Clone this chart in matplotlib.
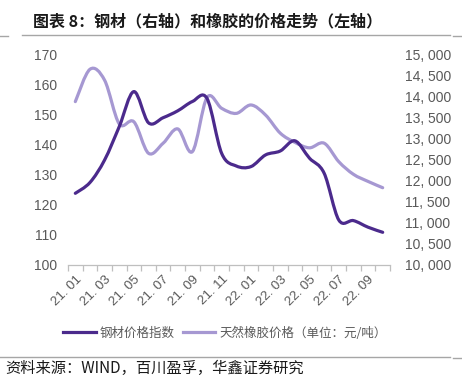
import matplotlib
matplotlib.use("Agg")
import matplotlib.pyplot as plt
import numpy as np
from matplotlib.path import Path
from matplotlib.patches import PathPatch
from matplotlib.lines import Line2D

plt.rcParams['font.family'] = ['Noto Sans CJK SC', 'DejaVu Sans']

# ---- data ----
months = ["21.01", "21.02", "21.03", "21.04", "21.05", "21.06", "21.07", "21.08",
          "21.09", "21.10", "21.11", "21.12", "22.01", "22.02", "22.03", "22.04",
          "22.05", "22.06", "22.07", "22.08", "22.09", "22.10"]
steel_index = [123.9, 127.5, 135.0, 146.1, 157.8, 147.4, 149.1, 151.4, 154.5, 155.5,
               137.2, 133.0, 132.8, 136.7, 138.0, 141.4, 135.6, 130.6, 115.0, 114.8,
               112.6, 110.9]
rubber_price = [13890, 14660, 14400, 13360, 13410, 12660, 12900, 13240, 12700, 13990,
                13730, 13610, 13810, 13570, 13140, 12920, 12790, 12900, 12460, 12160,
                11990, 11840]
left_ticks = [100, 110, 120, 130, 140, 150, 160, 170]
right_ticks = [10000, 10500, 11000, 11500, 12000, 12500, 13000, 13500, 14000, 14500, 15000]
label_steel = "钢材价格指数"
label_rubber = "天然橡胶价格（单位：元/吨）"
title = "图表 8：钢材（右轴）和橡胶的价格走势（左轴）"
source = "资料来源：WIND，百川盈孚，华鑫证券研究"

DARK = "#4b2a8c"
LIGHT = "#a698d2"
GRAY = "#595959"


def smooth_path(xs, ys):
    n = len(xs)
    verts = [(xs[0], ys[0])]
    codes = [Path.MOVETO]
    for i in range(n - 1):
        xp, yp = (xs[i - 1], ys[i - 1]) if i > 0 else (xs[i], ys[i])
        xn, yn = (xs[i + 2], ys[i + 2]) if i + 2 < n else (xs[i + 1], ys[i + 1])
        c1 = (xs[i] + (xs[i + 1] - xp) / 6.0, ys[i] + (ys[i + 1] - yp) / 6.0)
        c2 = (xs[i + 1] - (xn - xs[i]) / 6.0, ys[i + 1] - (yn - ys[i]) / 6.0)
        verts += [c1, c2, (xs[i + 1], ys[i + 1])]
        codes += [Path.CURVE4] * 3
    return Path(verts, codes)


fig = plt.figure(figsize=(4.62, 3.91), dpi=100)
ax = fig.add_axes([68 / 462, 1 - 265 / 391, 322 / 462, 210 / 391])
ax2 = ax.twinx()
ax.set_zorder(ax2.get_zorder() + 1)
ax.patch.set_visible(False)

x = np.arange(len(months))
ax.set_xlim(-0.5, len(months) - 0.5)
ax.set_ylim(100, 170)
ax2.set_ylim(10000, 15000)

ax2.add_patch(PathPatch(smooth_path(x, rubber_price), fill=False, edgecolor=LIGHT,
                        lw=2.3, capstyle='round', joinstyle='round'))
ax.add_patch(PathPatch(smooth_path(x, steel_index), fill=False, edgecolor=DARK,
                       lw=2.3, capstyle='round', joinstyle='round'))

for a in (ax, ax2):
    for s in a.spines.values():
        s.set_visible(False)
ax.spines['bottom'].set_visible(True)
ax.spines['bottom'].set_color("#bfbfbf")
ax.spines['bottom'].set_linewidth(0.9)

tick_font = dict(family='Liberation Sans', size=10)
ax.set_yticks(left_ticks)
ax.set_yticklabels([str(v) for v in left_ticks], fontdict=tick_font, color=GRAY)
ax.tick_params(axis='y', length=0, pad=8)
ax2.set_yticks(right_ticks)
ax2.set_yticklabels([f"{v:,}".replace(",", ", ") for v in right_ticks], fontdict=tick_font, color=GRAY)
ax2.tick_params(axis='y', length=0, pad=11)

ax.set_xticks(x[::2])
ax.set_xticklabels([m.replace(".", ". ") for m in months[::2]], rotation=45, ha='right',
                   va='top', rotation_mode='anchor', fontdict=dict(family='Liberation Sans', size=9.5),
                   color=GRAY)
ax.set_xticks(np.arange(-0.5, len(months), 1), minor=True)
ax.tick_params(axis='x', which='major', length=0, pad=6)
ax.tick_params(axis='x', which='minor', length=4, color="#bfbfbf", width=0.9)

handles = [Line2D([], [], color=DARK, lw=2.3), Line2D([], [], color=LIGHT, lw=2.3)]
fig.legend(handles, [label_steel, label_rubber], loc='center', bbox_to_anchor=(225 / 462, 1 - 333 / 391),
           ncol=2, frameon=False, handlelength=2.6, handletextpad=0.35, columnspacing=0.6,
           prop=dict(family=['Noto Sans CJK SC', 'DejaVu Sans'], size=9), labelcolor=GRAY)

fig.text(33 / 462, 1 - 21 / 391, title, fontsize=11.5, fontweight='bold', va='center', ha='left',
         color="#1a1a1a")
fig.text(5 / 462, 1 - 368 / 391, source, fontsize=11, va='center', ha='left', color="#1a1a1a")

fig.add_artist(Line2D([22 / 462, 450 / 462], [1 - 35 / 391] * 2, color="#a6a6a6", lw=1))
fig.add_artist(Line2D([0, 8 / 462], [1 - 36 / 391] * 2, color="#a6a6a6", lw=1))
fig.add_artist(Line2D([453 / 462, 1], [1 - 36 / 391] * 2, color="#a6a6a6", lw=1))
fig.add_artist(Line2D([0, 450 / 462], [1 - 357 / 391] * 2, color="#a6a6a6", lw=1))
fig.add_artist(Line2D([453 / 462, 1], [1 - 358 / 391] * 2, color="#a6a6a6", lw=1))

fig.savefig("out.png", dpi=100)
